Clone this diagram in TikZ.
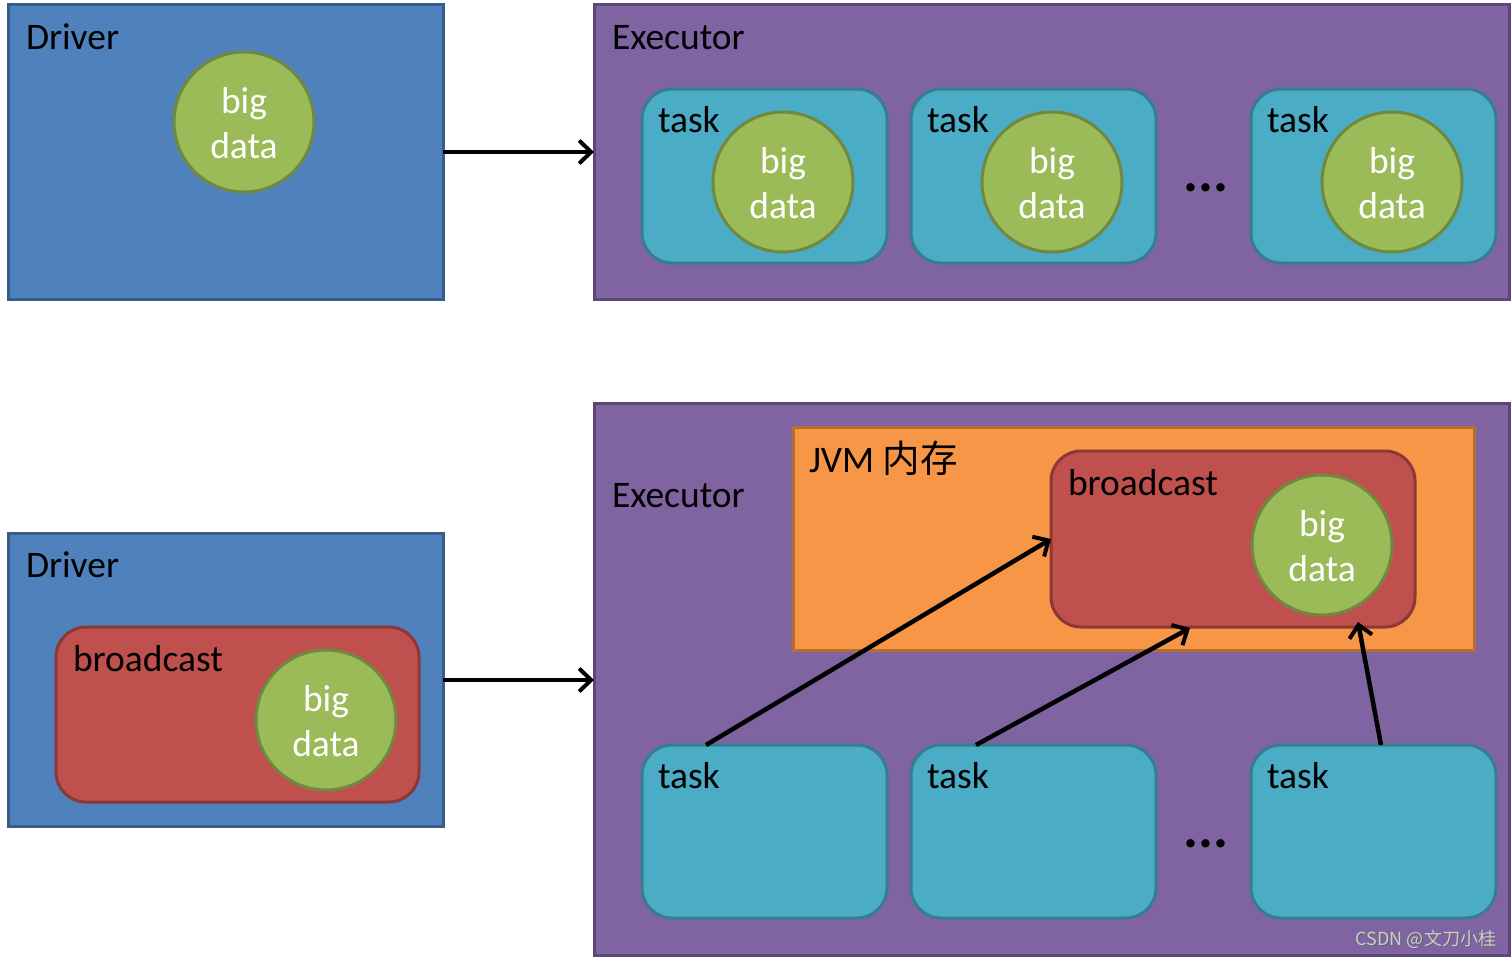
\documentclass[tikz,border=0pt]{standalone}
\usepackage{fontspec}
\setmainfont{Carlito}
\newfontfamily\cjk{Noto Sans CJK SC}
\usetikzlibrary{arrows.meta,calc}
\definecolor{bluef}{HTML}{4F81BD}\definecolor{blued}{HTML}{385D8A}
\definecolor{purpf}{HTML}{8064A2}\definecolor{purpd}{HTML}{5C4776}
\definecolor{taskf}{HTML}{4BACC6}\definecolor{taskd}{HTML}{357D91}
\definecolor{greenf}{HTML}{9BBB59}\definecolor{greend}{HTML}{71893E}
\definecolor{redf}{HTML}{C0504D}\definecolor{redd}{HTML}{8C3836}
\definecolor{orangef}{HTML}{F79646}\definecolor{oranged}{HTML}{B66D31}
\newcommand{\bigdatanode}[2]{%
  \node[bigdata] (#1) at (#2) {};
  \node[bdtext] (#1-t) at ($(#1)+(0,1)$) {big\\data};}
\begin{document}
\begin{tikzpicture}[x=1pt,y=-1pt,
  every node/.style={inner sep=0pt,outer sep=0pt},
  lbl/.style={anchor=base west,font=\fontsize{37.5}{45}\selectfont},
  driverbox/.style={rectangle,line width=3pt,minimum width=435pt,minimum height=294pt,fill=bluef,draw=blued},
  execbox/.style={rectangle,line width=3pt,fill=purpf,draw=purpd},
  taskbox/.style={rectangle,rounded corners=30pt,line width=3pt,fill=taskf,draw=taskd,minimum width=245pt,minimum height=174pt},
  bcbox/.style={rectangle,rounded corners=30pt,line width=3pt,fill=redf,draw=redd},
  bigdata/.style={circle,minimum size=140pt,line width=3pt,fill=greenf,draw=greend},
  bdtext/.style={text=white,align=center,font=\fontsize{37.5}{45}\selectfont},
  conn/.style={line width=4.5pt,-{Straight Barb[length=12pt,width=23pt,line width=4pt]}},
  dots/.style={anchor=base,font=\fontsize{56}{60}\selectfont\bfseries}
]
\useasboundingbox (0,0) rectangle (1512,958);
% ---------- top ----------
\node[driverbox] (d1) at (225.5,152) {};
\node[lbl] (d1l) at (26,50) {Driver};
\bigdatanode{d1c}{244,122}

\node[execbox,minimum width=915pt,minimum height=294pt] (e1) at (1051.5,152) {};
\node[lbl] (e1l) at (612,50) {Executor};

\node[taskbox] (t1) at (764.5,176) {};
\node[taskbox] (t2) at (1033.5,176) {};
\node[taskbox] (t3) at (1373.5,176) {};
\node[lbl] (t1l) at (658,132) {task};
\node[lbl] (t2l) at (927,132) {task};
\node[lbl] (t3l) at (1267,132) {task};
\bigdatanode{t1c}{783,182}
\bigdatanode{t2c}{1052,182}
\bigdatanode{t3c}{1392,182}
\node[dots] (dt1) at (1206,191) {...};

\draw[conn] (d1.east |- 0,152) -- (e1.west |- 0,152);

% ---------- bottom ----------
\node[driverbox,minimum height=293pt] (d2) at (225.5,679.5) {};
\node[lbl] (d2l) at (26,577) {Driver};
\node[bcbox,minimum width=363pt,minimum height=175pt] (b2) at (237.5,714.5) {};
\node[lbl] (b2l) at (73,671) {broadcast};
\bigdatanode{b2c}{326,720}

\node[execbox,minimum width=915pt,minimum height=552pt] (e2) at (1051.5,679) {};
\node[lbl] (e2l) at (612,507) {Executor};
\node[rectangle,line width=3pt,fill=orangef,draw=oranged,minimum width=681pt,minimum height=223pt] (jvm) at (1133.5,538.5) {};
\node[lbl] (jvml) at (809,472) {JVM {\cjk 内存}};
\node[bcbox,minimum width=364pt,minimum height=176pt] (bc) at (1233,539) {};
\node[lbl] (bcl) at (1068,495) {broadcast};
\bigdatanode{bcc}{1322,545}

\node[taskbox,minimum height=173pt] (bt1) at (764.5,831.5) {};
\node[taskbox,minimum height=173pt] (bt2) at (1033.5,831.5) {};
\node[taskbox,minimum height=173pt] (bt3) at (1373.5,831.5) {};
\node[lbl] (bt1l) at (658,788) {task};
\node[lbl] (bt2l) at (927,788) {task};
\node[lbl] (bt3l) at (1267,788) {task};
\node[dots] (dt2) at (1206,847) {...};

\draw[conn] (d2.east |- 0,680) -- (e2.west |- 0,680);
\draw[conn] ($(bt1.north west)+(64,0)$) -- (bc.west);
\draw[conn] ($(bt2.north west)+(65,0)$) -- ($(bc.south west)+(139,1)$);
\draw[conn] ($(bt3.north west)+(130,0)$) -- ($(bc.south east)+(-57,-5)$);

\node[anchor=east,text=black!60,font=\cjk\fontsize{18}{20}\selectfont] (wms) at (1497,940) {CSDN @文刀小桂};
\node[anchor=east,text=black!20,font=\cjk\fontsize{18}{20}\selectfont] (wm) at (1496,939) {CSDN @文刀小桂};
\end{tikzpicture}
\end{document}
